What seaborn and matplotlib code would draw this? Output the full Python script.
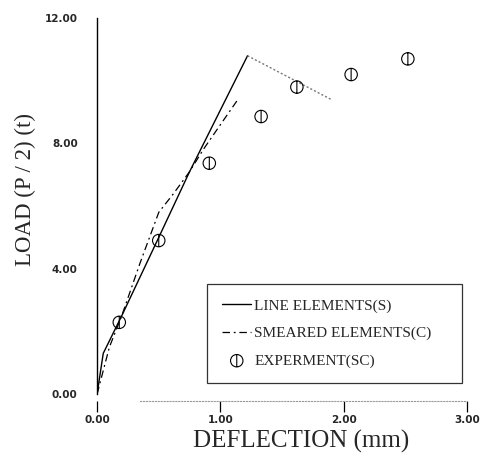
import matplotlib
matplotlib.use("Agg")
import matplotlib.pyplot as plt
from matplotlib.path import Path
import seaborn as sns
import pandas as pd

# Line elements (S) - FE model, rises to peak then softens
line_x = [0.00, 0.05, 0.15, 0.20, 0.50, 0.75, 1.22, 1.90]
line_y = [0.00, 1.30, 2.10, 2.50, 5.00, 7.10, 10.80, 9.40]

# Smeared elements (C)
smear_x = [0.00, 0.10, 0.20, 0.35, 0.50, 0.62, 0.75, 0.86, 1.00, 1.15]
smear_y = [0.00, 1.50, 2.50, 4.20, 5.80, 6.40, 7.10, 7.80, 8.60, 9.45]

# Experiment (SC)
exp_x = [0.18, 0.50, 0.91, 1.33, 1.62, 2.06, 2.52]
exp_y = [2.29, 4.90, 7.37, 8.86, 9.80, 10.20, 10.70]

x_ticks = [0.0, 1.0, 2.0, 3.0]
x_ticklabels = ["0.00", "1.00", "2.00", "3.00"]
y_ticks = [0.0, 4.0, 8.0, 12.0]
y_ticklabels = ["0.00", "4.00", "8.00", "12.00"]

sns.set_style("white")
plt.rcParams["font.family"] = ["Liberation Serif", "DejaVu Serif"]

# circle with a vertical bar through it
exp_marker = Path.make_compound_path(Path.unit_circle(),
                                     Path([[0, -1], [0, 1]]))

fig = plt.figure(figsize=(4.83, 4.54), dpi=100)
ax = fig.add_axes([0.201, 0.132, 0.766, 0.828])

line_df = pd.DataFrame({"x": line_x, "y": line_y})
smear_df = pd.DataFrame({"x": smear_x, "y": smear_y})

# rising part solid, post-peak part faint dotted (as in the scan)
sns.lineplot(data=line_df.iloc[:7], x="x", y="y", ax=ax, color="black",
             lw=1.0, sort=False, label="LINE ELEMENTS(S)")
sns.lineplot(data=line_df.iloc[6:], x="x", y="y", ax=ax, color="#777777",
             lw=1.0, ls=(0, (1.5, 1.5)), sort=False)
sns.lineplot(data=smear_df, x="x", y="y", ax=ax, color="black", lw=0.9,
             ls=(0, (6, 3, 1.5, 3)), sort=False, label="SMEARED ELEMENTS(C)")
ax.scatter(exp_x, exp_y, marker=exp_marker, s=80, facecolors="none",
           edgecolors="black", linewidths=0.8, label="EXPERMENT(SC)", zorder=3)

# spines first (set_position resets tick label styling)
for s in ["top", "right"]:
    ax.spines[s].set_visible(False)
ax.spines["left"].set_color("black")
ax.spines["left"].set_linewidth(1.0)
ax.spines["bottom"].set_position(("outward", 5))
ax.spines["bottom"].set_linestyle(":")
ax.spines["bottom"].set_color("#999999")
ax.spines["bottom"].set_bounds(0.35, 3.0)

ax.set_xlim(0, 3.0)
ax.set_ylim(0, 12.0)
ax.set_xticks(x_ticks)
ax.set_xticklabels(x_ticklabels, fontfamily="DejaVu Sans", fontweight="bold",
                   fontsize=7.5)
ax.set_yticks(y_ticks)
ax.set_yticklabels(y_ticklabels, fontfamily="DejaVu Sans", fontweight="bold",
                   fontsize=7.5)
ax.tick_params(axis="x", direction="out", length=8, width=0.9, pad=2,
               bottom=True, color="black")
ax.tick_params(axis="y", length=0, pad=14)

ax.set_xlabel("DEFLECTION (mm)", fontsize=18)
ax.xaxis.set_label_coords(0.551, -0.095)
ax.set_ylabel("LOAD (P / 2) (t)", fontsize=16.5)
ax.yaxis.set_label_coords(-0.165, 0.543)

leg = ax.legend(loc="lower left", bbox_to_anchor=(0.297, 0.029, 0.689, 0.274),
                mode="expand", borderaxespad=0, fontsize=11, frameon=True,
                fancybox=False, edgecolor="black", borderpad=1.0,
                labelspacing=0.9, handlelength=1.9, handletextpad=0.2)
leg.get_frame().set_linewidth(0.9)

fig.savefig("out.png", dpi=100)
